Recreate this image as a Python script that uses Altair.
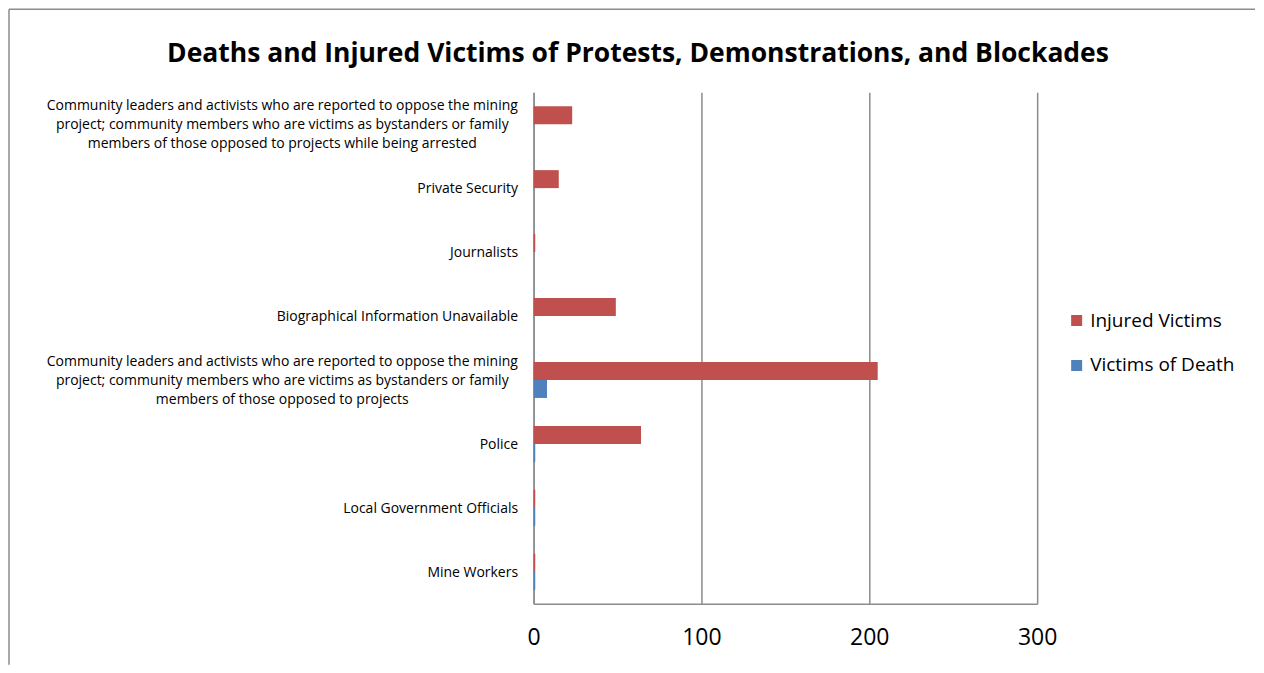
import altair as alt
import pandas as pd

LONG_ARRESTED = ("Community leaders and activists who are reported to oppose the mining\n"
                 "project; community members who are victims as bystanders or family\n"
                 "members of those opposed to projects while being arrested")
LONG_COMMUNITY = ("Community leaders and activists who are reported to oppose the mining\n"
                  "project; community members who are victims as bystanders or family\n"
                  "members of those opposed to projects")

categories = [
    LONG_ARRESTED,
    "Private Security",
    "Journalists",
    "Biographical Information Unavailable",
    LONG_COMMUNITY,
    "Police",
    "Local Government Officials",
    "Mine Workers",
]
series_names = ["Injured Victims", "Victims of Death"]
injured = [23, 15, 1, 49, 205, 64, 1, 1]
deaths = [0, 0, 0, 0, 8, 1, 1, 1]
series_colors = ["#C0504D", "#4F81BD"]
x_ticks = [0, 100, 200, 300]

rows = []
for c, i, d in zip(categories, injured, deaths):
    rows.append({"category": c, "series": series_names[0], "value": i})
    rows.append({"category": c, "series": series_names[1], "value": d})
df = pd.DataFrame(rows)

FONT = "Open Sans"
GRID = "#8c8c8c"

y_scale = alt.Scale(domain=categories, paddingInner=0.4375, paddingOuter=0.21875)
yoff = alt.YOffset("series:N", sort=series_names,
                   scale=alt.Scale(domain=series_names, paddingInner=0, paddingOuter=0))
x_axis = alt.Axis(values=x_ticks, title=None, grid=True, gridColor=GRID,
                  gridWidth=1.5, ticks=False, domainColor=GRID, domainWidth=1.5,
                  labelFontSize=23, labelFont=FONT, labelColor="black",
                  labelPadding=23, labelFlush=False)
x_enc = alt.X("value:Q", scale=alt.Scale(domain=[0, 300], nice=False), axis=x_axis)
color_enc = alt.Color("series:N", sort=series_names,
                      scale=alt.Scale(domain=series_names, range=series_colors),
                      legend=alt.Legend(title=None, orient="none", legendX=534, legendY=219,
                                        symbolType="square", symbolSize=121,
                                        symbolStrokeWidth=0, labelFontSize=19,
                                        labelFont=FONT, labelColor="black",
                                        rowPadding=25, labelOffset=4))

bars = alt.Chart(df).mark_bar().encode(
    y=alt.Y("category:N", sort=categories, scale=y_scale,
            axis=alt.Axis(orient="left", title=None, ticks=False, grid=False,
                          domainColor=GRID, domainWidth=1.5,
                          labelExpr="indexof(datum.label, '\\n') >= 0 ? '' : datum.label",
                          labelAlign="right", labelPadding=16, labelFontSize=14,
                          labelFont=FONT, labelColor="black", labelLimit=0,
                          labelOffset=1)),
    yOffset=yoff,
    x=x_enc,
    color=color_enc,
)

long_labels = alt.Chart(df).mark_bar(opacity=0).encode(
    y=alt.Y("category:N", sort=categories, scale=y_scale,
            axis=alt.Axis(orient="left", title=None, ticks=False, grid=False, domain=False,
                          labelExpr="indexof(datum.label, '\\n') >= 0 ? split(datum.label, '\\n') : ''",
                          labelAlign="center", labelPadding=252, labelOffset=-18,
                          labelFontSize=14, labelLineHeight=19, labelFont=FONT,
                          labelColor="black", labelLimit=0)),
    yOffset=yoff,
    x=x_enc,
)

border = pd.DataFrame({"f": [0]})
top_line = alt.Chart(border).mark_rule(color="#8c8c8c", strokeWidth=1.5).encode(
    x=alt.value(-525), x2=alt.value(722), y=alt.value(-83))
left_line = alt.Chart(border).mark_rule(color="#8c8c8c", strokeWidth=1.5).encode(
    x=alt.value(-525), y=alt.value(-83), y2=alt.value(573))

chart = alt.layer(top_line, left_line, bars, long_labels).resolve_axis(y="independent").properties(
    width=504, height=512, padding=0,
    title=alt.Title("Deaths and Injured Victims of Protests, Demonstrations, and Blockades",
                    font=FONT, fontSize=26.5, fontWeight="bold", color="black",
                    anchor="middle", frame="bounds", baseline="alphabetic",
                    offset=-80, dx=6),
).configure_view(stroke=None)

chart.save("out.html", embed_options={"renderer": "svg", "actions": False})
